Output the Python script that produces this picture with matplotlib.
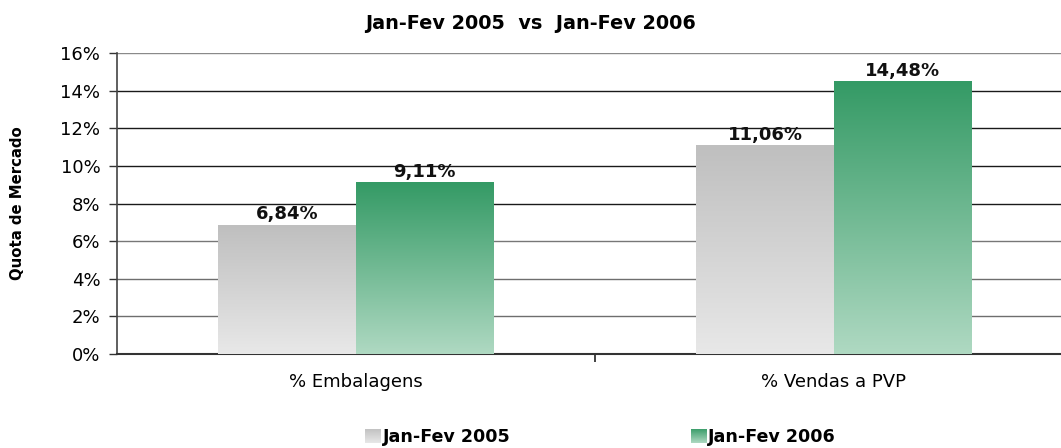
import numpy as np
import matplotlib
matplotlib.use('Agg')
import matplotlib.pyplot as plt
from matplotlib.colors import LinearSegmentedColormap
from matplotlib.patches import Patch
from matplotlib.ticker import FixedLocator

plt.rcParams['font.family'] = ['DejaVu Sans']

categories = ['% Embalagens', '% Vendas a PVP']
series_names = ['Jan-Fev 2005', 'Jan-Fev 2006']
v2005 = [6.84, 11.06]
v2006 = [9.11, 14.48]
yticks = [0, 2, 4, 6, 8, 10, 12, 14, 16]

# gradient colours (top, bottom) for each series
grey_top, grey_bot = '#bfbfbf', '#e8e8e8'
green_top, green_bot = '#349a65', '#afd9c2'
cmaps = [LinearSegmentedColormap.from_list('grey', [grey_bot, grey_top]),
         LinearSegmentedColormap.from_list('green', [green_bot, green_top])]

fig = plt.figure(figsize=(10.61, 4.48), dpi=100)
ax = fig.add_axes([0.1103, 0.2098, 0.8897, 0.6719])

bw = 0.2877
x = np.arange(len(categories))
grad = np.linspace(1, 0, 256).reshape(-1, 1)

def gradient_bar(xc, h, cmap):
    ax.imshow(grad, extent=[xc - bw / 2, xc + bw / 2, 0, h], aspect='auto',
              cmap=cmap, vmin=0, vmax=1, zorder=3, interpolation='bicubic')

def pct(v):
    return f'{v:.2f}%'.replace('.', ',')

for xi, a, b in zip(x, v2005, v2006):
    gradient_bar(xi - bw / 2, a, cmaps[0])
    gradient_bar(xi + bw / 2, b, cmaps[1])
    ax.text(xi - bw / 2, a + 0.1, pct(a), ha='center', va='bottom',
            fontsize=13, fontweight='bold', color='#111111', zorder=4)
    ax.text(xi + bw / 2, b + 0.1, pct(b), ha='center', va='bottom',
            fontsize=13, fontweight='bold', color='#111111', zorder=4)

# gridlines (lighter at the very top and the lower part, as in the original)
grid_cols = {2: '#6e6e6e', 4: '#6e6e6e', 6: '#777777', 8: '#1a1a1a',
             10: '#1a1a1a', 12: '#1a1a1a', 14: '#1a1a1a', 16: '#8a8a8a'}
for yv in yticks[1:]:
    ax.axhline(yv, color=grid_cols[yv], linewidth=1.0, zorder=1)

ax.set_xlim(-0.5, 1.475)
ax.set_ylim(0, 16)
ax.set_yticks(yticks)
ax.set_yticklabels([f'{t}%' for t in yticks], fontsize=13)
ax.set_xticks(x)
ax.set_xticklabels(categories, fontsize=13)
ax.tick_params(axis='x', which='major', length=0, pad=14)
ax.xaxis.set_minor_locator(FixedLocator([0.5]))
ax.tick_params(axis='x', which='minor', length=6, width=1.2, color='#222222')
ax.tick_params(axis='y', length=6, width=1.0, color='#333333', pad=6)

for s in ['top', 'right']:
    ax.spines[s].set_visible(False)
ax.spines['left'].set_color('#444444')
ax.spines['left'].set_linewidth(1.2)
ax.spines['bottom'].set_color('#333333')
ax.spines['bottom'].set_linewidth(1.5)

ax.set_ylabel('Quota de Mercado', fontsize=10.7, fontweight='bold')
ax.yaxis.set_label_coords(-0.097, 0.5)
fig.text(0.5, 0.9475, 'Jan-Fev 2005  vs  Jan-Fev 2006', ha='center', va='center',
         fontsize=13.9, fontweight='bold')

handles = [Patch(facecolor='#d2d2d2', edgecolor='none'),
           Patch(facecolor='#5fae84', edgecolor='none')]
leg = fig.legend(handles, series_names, loc='center', bbox_to_anchor=(0.566, 0.0246),
                 ncol=2, frameon=False, prop={'weight': 'bold', 'size': 12.6},
                 handlelength=0.86, handleheight=0.86, handletextpad=0.15,
                 columnspacing=10.3, borderpad=0.1)

# swap the flat legend squares for small gradient squares
fig.canvas.draw()
W, H = fig.canvas.get_width_height()
for h, cm in zip(leg.legend_handles, cmaps):
    bb = h.get_window_extent()
    iax = fig.add_axes([bb.x0 / W, bb.y0 / H, bb.width / W, bb.height / H])
    iax.imshow(grad, aspect='auto', cmap=cm, vmin=0, vmax=1, interpolation='bicubic')
    iax.axis('off')
    h.set_visible(False)

fig.savefig('out.png', dpi=100)
